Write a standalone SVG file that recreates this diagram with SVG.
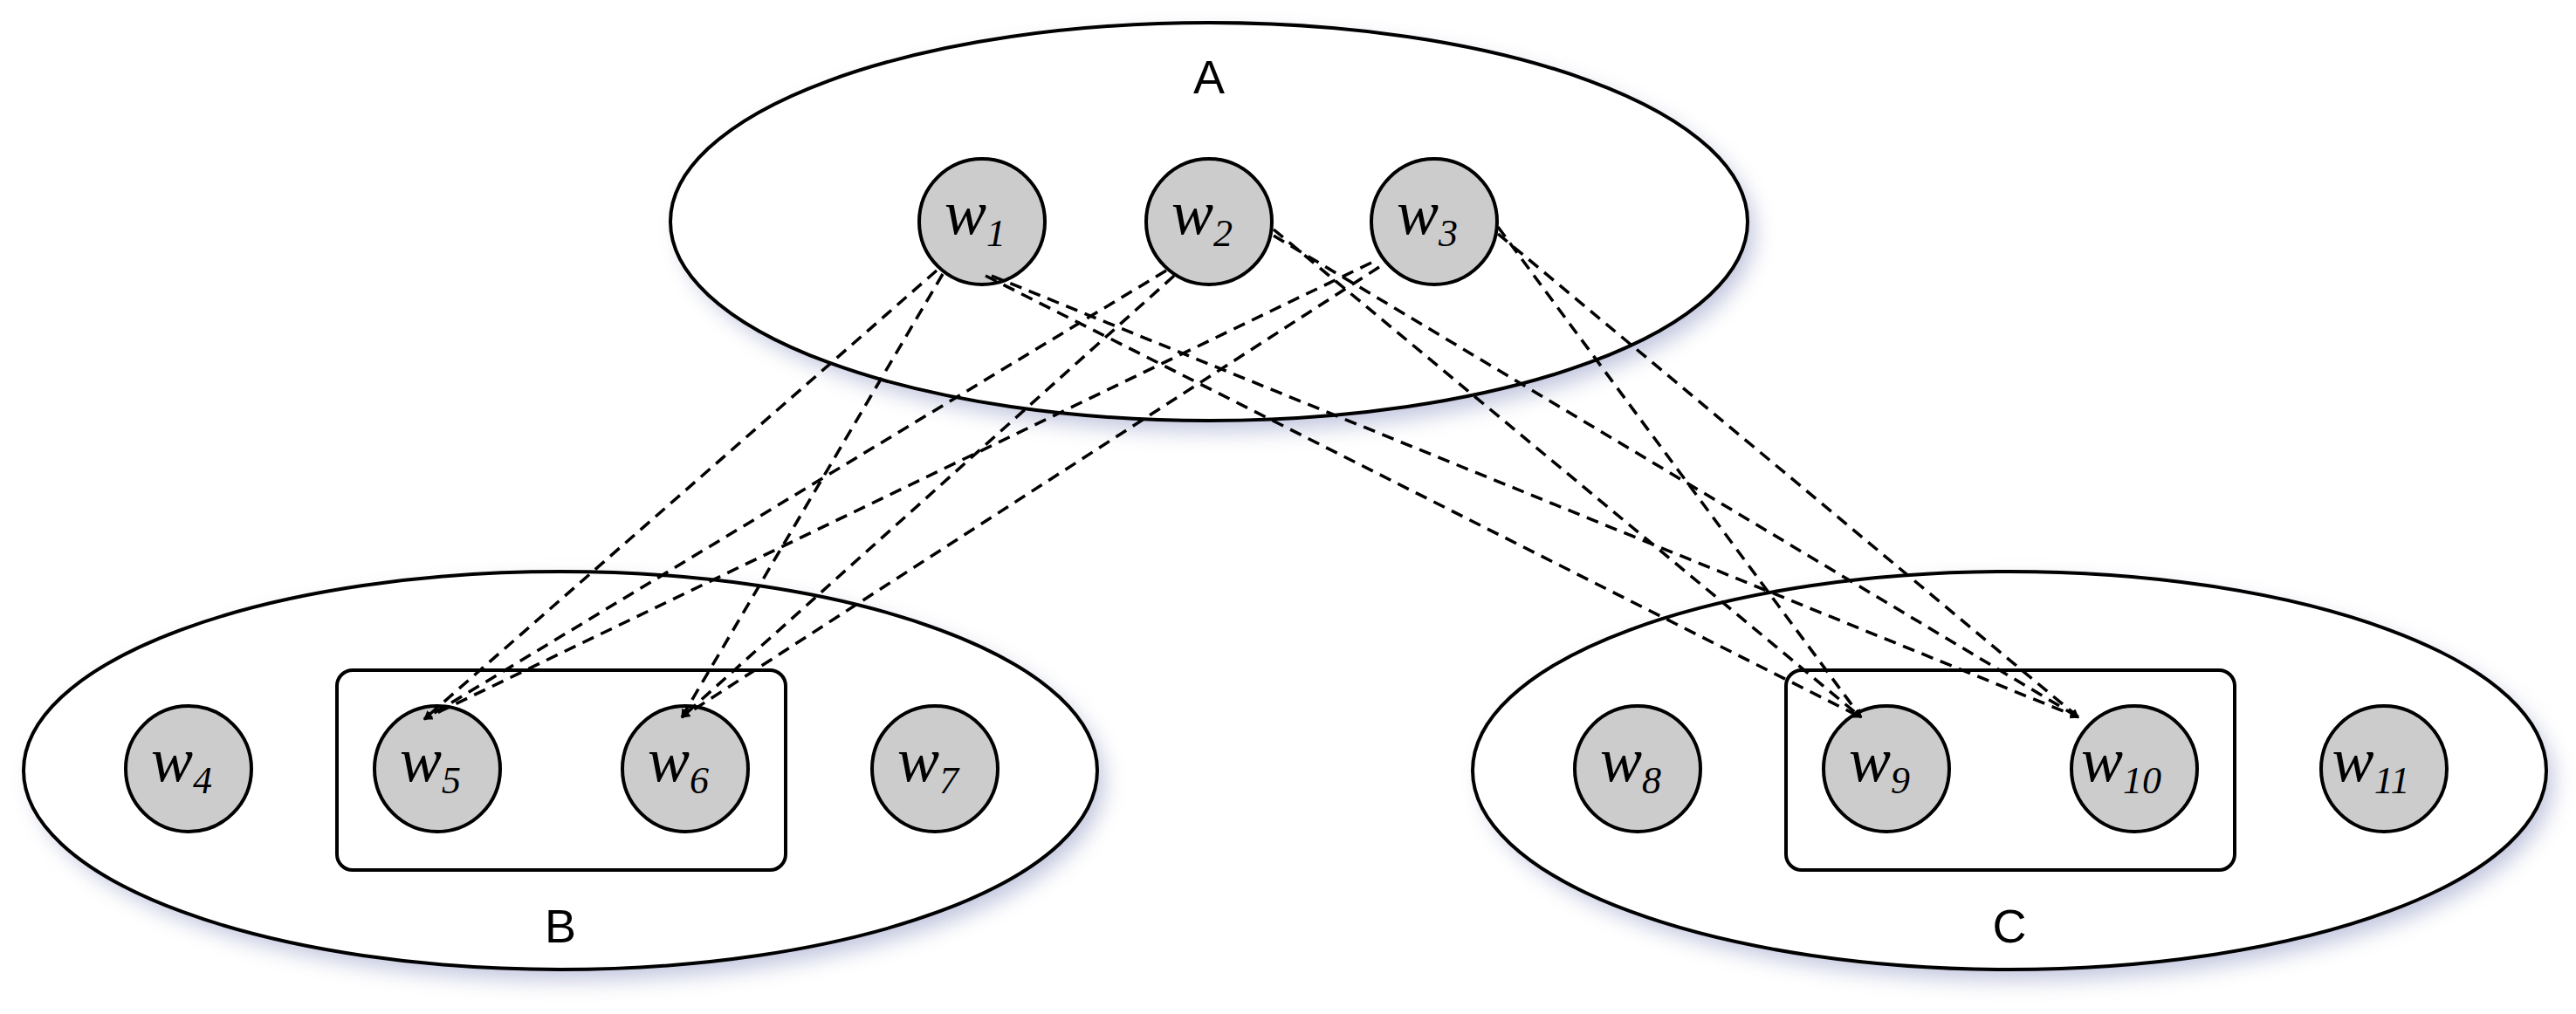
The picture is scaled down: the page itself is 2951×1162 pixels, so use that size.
<svg xmlns="http://www.w3.org/2000/svg" width="2951" height="1162" viewBox="0 0 2951 1162">
<style>
.grp{fill:#fff;stroke:#000;stroke-width:4}
.sh{fill:#9aa0c8;opacity:0.6;filter:url(#blur)}
.nd{fill:#cccccc;stroke:#000;stroke-width:4}
.box{fill:none;stroke:#000;stroke-width:4}
.w{font-family:"Liberation Serif",serif;font-style:italic;font-size:72px;text-anchor:middle}
.sub{font-size:44px}
.lab{font-family:"Liberation Sans",sans-serif;font-size:54px;text-anchor:middle}
.e{fill:none;stroke:#000;stroke-width:3.5;stroke-dasharray:14 9;marker-end:url(#ah)}
</style>
<defs>
<filter id="blur" x="-10%" y="-10%" width="120%" height="130%"><feGaussianBlur stdDeviation="12"/></filter>
<marker id="ah" markerWidth="10" markerHeight="10" refX="9" refY="5" orient="auto" markerUnits="userSpaceOnUse" viewBox="0 0 10 10"><path d="M0,0 L10,5 L0,10 z" fill="#000"/></marker>
</defs>
<rect width="2951" height="1162" fill="#fff"/>
<g id="A">
<ellipse class="sh" cx="1395" cy="266" rx="615" ry="228"/>
<ellipse class="grp" cx="1385" cy="254" rx="617" ry="228"/>
<text class="lab" x="1385" y="107">A</text>
</g>
<g id="B">
<ellipse class="sh" cx="652" cy="895" rx="613" ry="228"/>
<ellipse class="grp" cx="642" cy="883" rx="615" ry="228"/>
<rect class="box" x="386" y="768" width="514" height="229" rx="18"/>
<text class="lab" x="642" y="1080">B</text>
</g>
<g id="C">
<ellipse class="sh" cx="2312" cy="895" rx="613" ry="228"/>
<ellipse class="grp" cx="2302" cy="883" rx="615" ry="228"/>
<rect class="box" x="2046" y="768" width="514" height="229" rx="18"/>
<text class="lab" x="2302" y="1080">C</text>
</g>
<g id="w1"><circle class="nd" cx="1125" cy="254" r="72"/><text class="w" x="1117" y="268">w<tspan class="sub" dy="14">1</tspan></text></g>
<g id="w2"><circle class="nd" cx="1385" cy="254" r="72"/><text class="w" x="1377" y="268">w<tspan class="sub" dy="14">2</tspan></text></g>
<g id="w3"><circle class="nd" cx="1643" cy="254" r="72"/><text class="w" x="1635" y="268">w<tspan class="sub" dy="14">3</tspan></text></g>
<g id="w4"><circle class="nd" cx="216" cy="881" r="72"/><text class="w" x="208" y="895">w<tspan class="sub" dy="14">4</tspan></text></g>
<g id="w5"><circle class="nd" cx="501" cy="881" r="72"/><text class="w" x="493" y="895">w<tspan class="sub" dy="14">5</tspan></text></g>
<g id="w6"><circle class="nd" cx="785" cy="881" r="72"/><text class="w" x="777" y="895">w<tspan class="sub" dy="14">6</tspan></text></g>
<g id="w7"><circle class="nd" cx="1071" cy="881" r="72"/><text class="w" x="1063" y="895">w<tspan class="sub" dy="14">7</tspan></text></g>
<g id="w8"><circle class="nd" cx="1876" cy="881" r="72"/><text class="w" x="1868" y="895">w<tspan class="sub" dy="14">8</tspan></text></g>
<g id="w9"><circle class="nd" cx="2161" cy="881" r="72"/><text class="w" x="2153" y="895">w<tspan class="sub" dy="14">9</tspan></text></g>
<g id="w10"><circle class="nd" cx="2445" cy="881" r="72"/><text class="w" x="2430" y="895">w<tspan class="sub" dy="14">10</tspan></text></g>
<g id="w11"><circle class="nd" cx="2731" cy="881" r="72"/><text class="w" x="2716" y="895">w<tspan class="sub" dy="14">11</tspan></text></g>
<g id="edges">
<path class="e" d="M1073,310 L486,824"/>
<path class="e" d="M1080,314 L781,822"/>
<path class="e" d="M1129,316 L2132,822"/>
<path class="e" d="M1136,316 L2381,822"/>
<path class="e" d="M1336,310 L486,824"/>
<path class="e" d="M1345,316 L781,822"/>
<path class="e" d="M1459,263 L2132,822"/>
<path class="e" d="M1459,270 L2381,822"/>
<path class="e" d="M1571,301 L486,824"/>
<path class="e" d="M1580,306 L781,822"/>
<path class="e" d="M1716,260 L2132,822"/>
<path class="e" d="M1716,268 L2381,822"/>
</g>
</svg>
